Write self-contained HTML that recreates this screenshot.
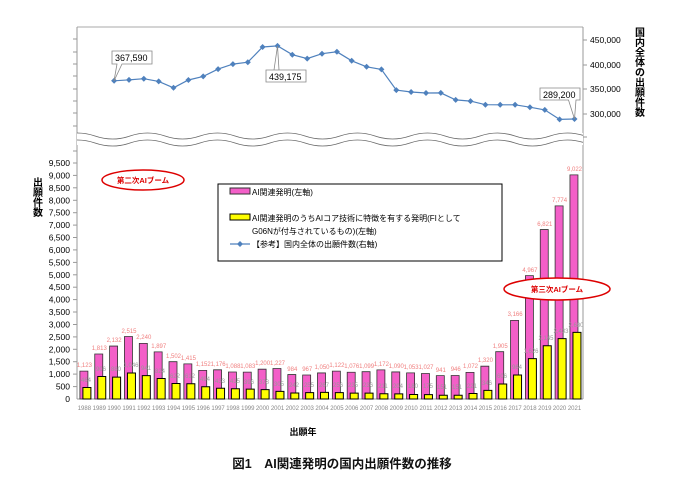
<!DOCTYPE html>
<html><head><meta charset="utf-8"><style>
body{margin:0;background:#fff}
svg{display:block;font-family:"Liberation Sans","Noto Sans CJK JP",sans-serif}
.yl{font-size:8.5px;fill:#000;text-anchor:end}
.xl{font-size:6px;fill:#888;text-anchor:middle}
.pl{font-size:6px;fill:#f08080;text-anchor:middle}
.gl{font-size:6px;fill:#999;text-anchor:middle}
</style></head><body>
<svg width="684" height="484" viewBox="0 0 684 484">
<defs><clipPath id="cp"><rect x="77" y="120" width="506" height="40"/></clipPath></defs>
<rect width="684" height="484" fill="#fff"/>
<!-- frame -->
<line x1="77" y1="27" x2="583" y2="27" stroke="#aaa"/>
<line x1="77" y1="27" x2="77" y2="399" stroke="#999"/>
<line x1="583" y1="27" x2="583" y2="399" stroke="#999"/>
<line x1="77" y1="399" x2="583" y2="399" stroke="#999"/>
<g stroke="#999">
<line x1="73" y1="39" x2="77" y2="39"/><line x1="73" y1="52" x2="77" y2="52"/><line x1="73" y1="64" x2="77" y2="64"/><line x1="73" y1="76" x2="77" y2="76"/><line x1="73" y1="89" x2="77" y2="89"/><line x1="73" y1="101" x2="77" y2="101"/><line x1="73" y1="113" x2="77" y2="113"/><line x1="73" y1="126" x2="77" y2="126"/>
<line x1="583" y1="40" x2="587" y2="40"/><line x1="583" y1="65" x2="587" y2="65"/><line x1="583" y1="89" x2="587" y2="89"/><line x1="583" y1="114" x2="587" y2="114"/><line x1="583" y1="137" x2="587" y2="137"/>
<line x1="73" y1="151" x2="77" y2="151"/>
<line x1="73" y1="163" x2="77" y2="163"/><line x1="73" y1="175.4" x2="77" y2="175.4"/><line x1="73" y1="187.8" x2="77" y2="187.8"/><line x1="73" y1="200.3" x2="77" y2="200.3"/><line x1="73" y1="212.7" x2="77" y2="212.7"/><line x1="73" y1="225.1" x2="77" y2="225.1"/><line x1="73" y1="237.5" x2="77" y2="237.5"/><line x1="73" y1="249.9" x2="77" y2="249.9"/><line x1="73" y1="262.4" x2="77" y2="262.4"/><line x1="73" y1="274.8" x2="77" y2="274.8"/><line x1="73" y1="287.2" x2="77" y2="287.2"/><line x1="73" y1="299.6" x2="77" y2="299.6"/><line x1="73" y1="312" x2="77" y2="312"/><line x1="73" y1="324.5" x2="77" y2="324.5"/><line x1="73" y1="336.9" x2="77" y2="336.9"/><line x1="73" y1="349.3" x2="77" y2="349.3"/><line x1="73" y1="361.7" x2="77" y2="361.7"/><line x1="73" y1="374.1" x2="77" y2="374.1"/><line x1="73" y1="386.6" x2="77" y2="386.6"/>
</g>
<!-- wave break -->
<g clip-path="url(#cp)">
<rect x="70" y="133" width="520" height="12" fill="#fff"/>
<path d="M60 136 q17.5 -6 35 0 t35 0 t35 0 t35 0 t35 0 t35 0 t35 0 t35 0 t35 0 t35 0 t35 0 t35 0 t35 0 t35 0 t35 0 t35 0" fill="none" stroke="#666" stroke-width="0.8"/>
<path d="M60 143 q17.5 -6 35 0 t35 0 t35 0 t35 0 t35 0 t35 0 t35 0 t35 0 t35 0 t35 0 t35 0 t35 0 t35 0 t35 0 t35 0 t35 0" fill="none" stroke="#666" stroke-width="0.8"/>
</g>
<!-- left labels -->
<g class="yl">
<text x="70" y="166">9,500</text><text x="70" y="178.4">9,000</text><text x="70" y="190.8">8,500</text><text x="70" y="203.3">8,000</text><text x="70" y="215.7">7,500</text><text x="70" y="228.1">7,000</text><text x="70" y="240.5">6,500</text><text x="70" y="252.9">6,000</text><text x="70" y="265.4">5,500</text><text x="70" y="277.8">5,000</text><text x="70" y="290.2">4,500</text><text x="70" y="302.6">4,000</text><text x="70" y="315">3,500</text><text x="70" y="327.5">3,000</text><text x="70" y="339.9">2,500</text><text x="70" y="352.3">2,000</text><text x="70" y="364.7">1,500</text><text x="70" y="377.1">1,000</text><text x="70" y="389.6">500</text><text x="70" y="402">0</text>
</g>
<g style="font-size:8.5px">
<text x="590" y="43">450,000</text><text x="590" y="68">400,000</text><text x="590" y="92">350,000</text><text x="590" y="117">300,000</text>
</g>
<g style="font-size:10px;font-weight:bold" text-anchor="middle">
<text x="38" y="186">出</text><text x="38" y="196">願</text><text x="38" y="206">件</text><text x="38" y="216">数</text>
<text x="640" y="36">国</text><text x="640" y="46">内</text><text x="640" y="56">全</text><text x="640" y="66">体</text><text x="640" y="76">の</text><text x="640" y="86">出</text><text x="640" y="96">願</text><text x="640" y="106">件</text><text x="640" y="116">数</text>
</g>
<!-- bars -->
<g transform="translate(84.4,399) scale(14.85,-0.02484)">
<g fill="#f35fc8" stroke="#333" stroke-width="0.8">
<rect x="-0.303" y="0" width="0.539" height="1123" vector-effect="non-scaling-stroke"/><rect x="0.697" y="0" width="0.539" height="1813" vector-effect="non-scaling-stroke"/><rect x="1.697" y="0" width="0.539" height="2132" vector-effect="non-scaling-stroke"/><rect x="2.697" y="0" width="0.539" height="2515" vector-effect="non-scaling-stroke"/><rect x="3.697" y="0" width="0.539" height="2240" vector-effect="non-scaling-stroke"/><rect x="4.697" y="0" width="0.539" height="1897" vector-effect="non-scaling-stroke"/><rect x="5.697" y="0" width="0.539" height="1502" vector-effect="non-scaling-stroke"/><rect x="6.697" y="0" width="0.539" height="1415" vector-effect="non-scaling-stroke"/><rect x="7.697" y="0" width="0.539" height="1152" vector-effect="non-scaling-stroke"/><rect x="8.697" y="0" width="0.539" height="1176" vector-effect="non-scaling-stroke"/><rect x="9.697" y="0" width="0.539" height="1088" vector-effect="non-scaling-stroke"/><rect x="10.697" y="0" width="0.539" height="1083" vector-effect="non-scaling-stroke"/><rect x="11.697" y="0" width="0.539" height="1200" vector-effect="non-scaling-stroke"/><rect x="12.697" y="0" width="0.539" height="1227" vector-effect="non-scaling-stroke"/><rect x="13.697" y="0" width="0.539" height="984" vector-effect="non-scaling-stroke"/><rect x="14.697" y="0" width="0.539" height="967" vector-effect="non-scaling-stroke"/><rect x="15.697" y="0" width="0.539" height="1050" vector-effect="non-scaling-stroke"/><rect x="16.697" y="0" width="0.539" height="1122" vector-effect="non-scaling-stroke"/><rect x="17.697" y="0" width="0.539" height="1076" vector-effect="non-scaling-stroke"/><rect x="18.697" y="0" width="0.539" height="1099" vector-effect="non-scaling-stroke"/><rect x="19.697" y="0" width="0.539" height="1172" vector-effect="non-scaling-stroke"/><rect x="20.697" y="0" width="0.539" height="1090" vector-effect="non-scaling-stroke"/><rect x="21.697" y="0" width="0.539" height="1053" vector-effect="non-scaling-stroke"/><rect x="22.697" y="0" width="0.539" height="1027" vector-effect="non-scaling-stroke"/><rect x="23.697" y="0" width="0.539" height="941" vector-effect="non-scaling-stroke"/><rect x="24.697" y="0" width="0.539" height="946" vector-effect="non-scaling-stroke"/><rect x="25.697" y="0" width="0.539" height="1072" vector-effect="non-scaling-stroke"/><rect x="26.697" y="0" width="0.539" height="1320" vector-effect="non-scaling-stroke"/><rect x="27.697" y="0" width="0.539" height="1905" vector-effect="non-scaling-stroke"/><rect x="28.697" y="0" width="0.539" height="3166" vector-effect="non-scaling-stroke"/><rect x="29.697" y="0" width="0.539" height="4967" vector-effect="non-scaling-stroke"/><rect x="30.697" y="0" width="0.539" height="6821" vector-effect="non-scaling-stroke"/><rect x="31.697" y="0" width="0.539" height="7774" vector-effect="non-scaling-stroke"/><rect x="32.697" y="0" width="0.539" height="9022" vector-effect="non-scaling-stroke"/>
</g>
<g fill="#ffff00" stroke="#000" stroke-width="1">
<rect x="-0.101" y="0" width="0.539" height="464" vector-effect="non-scaling-stroke"/><rect x="0.899" y="0" width="0.539" height="906" vector-effect="non-scaling-stroke"/><rect x="1.899" y="0" width="0.539" height="880" vector-effect="non-scaling-stroke"/><rect x="2.899" y="0" width="0.539" height="1046" vector-effect="non-scaling-stroke"/><rect x="3.899" y="0" width="0.539" height="941" vector-effect="non-scaling-stroke"/><rect x="4.899" y="0" width="0.539" height="824" vector-effect="non-scaling-stroke"/><rect x="5.899" y="0" width="0.539" height="622" vector-effect="non-scaling-stroke"/><rect x="6.899" y="0" width="0.539" height="612" vector-effect="non-scaling-stroke"/><rect x="7.899" y="0" width="0.539" height="494" vector-effect="non-scaling-stroke"/><rect x="8.899" y="0" width="0.539" height="433" vector-effect="non-scaling-stroke"/><rect x="9.899" y="0" width="0.539" height="415" vector-effect="non-scaling-stroke"/><rect x="10.899" y="0" width="0.539" height="396" vector-effect="non-scaling-stroke"/><rect x="11.899" y="0" width="0.539" height="378" vector-effect="non-scaling-stroke"/><rect x="12.899" y="0" width="0.539" height="305" vector-effect="non-scaling-stroke"/><rect x="13.899" y="0" width="0.539" height="242" vector-effect="non-scaling-stroke"/><rect x="14.899" y="0" width="0.539" height="255" vector-effect="non-scaling-stroke"/><rect x="15.899" y="0" width="0.539" height="267" vector-effect="non-scaling-stroke"/><rect x="16.899" y="0" width="0.539" height="256" vector-effect="non-scaling-stroke"/><rect x="17.899" y="0" width="0.539" height="235" vector-effect="non-scaling-stroke"/><rect x="18.899" y="0" width="0.539" height="236" vector-effect="non-scaling-stroke"/><rect x="19.899" y="0" width="0.539" height="211" vector-effect="non-scaling-stroke"/><rect x="20.899" y="0" width="0.539" height="204" vector-effect="non-scaling-stroke"/><rect x="21.899" y="0" width="0.539" height="180" vector-effect="non-scaling-stroke"/><rect x="22.899" y="0" width="0.539" height="175" vector-effect="non-scaling-stroke"/><rect x="23.899" y="0" width="0.539" height="151" vector-effect="non-scaling-stroke"/><rect x="24.899" y="0" width="0.539" height="151" vector-effect="non-scaling-stroke"/><rect x="25.899" y="0" width="0.539" height="221" vector-effect="non-scaling-stroke"/><rect x="26.899" y="0" width="0.539" height="346" vector-effect="non-scaling-stroke"/><rect x="27.899" y="0" width="0.539" height="606" vector-effect="non-scaling-stroke"/><rect x="28.899" y="0" width="0.539" height="964" vector-effect="non-scaling-stroke"/><rect x="29.899" y="0" width="0.539" height="1626" vector-effect="non-scaling-stroke"/><rect x="30.899" y="0" width="0.539" height="2145" vector-effect="non-scaling-stroke"/><rect x="31.899" y="0" width="0.539" height="2433" vector-effect="non-scaling-stroke"/><rect x="32.899" y="0" width="0.539" height="2680" vector-effect="non-scaling-stroke"/>
</g>
</g>
<!-- pink labels -->
<g class="pl">
<text x="84.4" y="367">1,123</text><text x="99.3" y="350">1,813</text><text x="114.1" y="342">2,132</text><text x="129" y="333">2,515</text><text x="143.8" y="339">2,240</text><text x="158.7" y="348">1,897</text><text x="173.5" y="358">1,502</text><text x="188.4" y="360">1,415</text><text x="203.2" y="366">1,152</text><text x="218.1" y="366">1,176</text><text x="232.9" y="368">1,088</text><text x="247.8" y="368">1,083</text><text x="262.6" y="365">1,200</text><text x="277.5" y="365">1,227</text><text x="292.3" y="371">984</text><text x="307.2" y="371">967</text><text x="322" y="369">1,050</text><text x="336.9" y="367">1,122</text><text x="351.7" y="368">1,076</text><text x="366.6" y="368">1,099</text><text x="381.4" y="366">1,172</text><text x="396.3" y="368">1,090</text><text x="411.1" y="369">1,053</text><text x="426" y="369">1,027</text><text x="440.8" y="372">941</text><text x="455.7" y="371">946</text><text x="470.5" y="368">1,072</text><text x="485.4" y="362">1,320</text><text x="500.2" y="348">1,905</text><text x="515.1" y="316">3,166</text><text x="529.9" y="272">4,967</text><text x="544.8" y="226">6,821</text><text x="559.6" y="202">7,774</text><text x="574.5" y="171">9,022</text>
</g>
<g class="gl">
<text x="86" y="382">464</text><text x="101" y="371">906</text><text x="116" y="371">880</text><text x="131" y="367">1,046</text><text x="146" y="370">941</text><text x="160" y="373">824</text><text x="175" y="378">622</text><text x="190" y="378">612</text><text x="205" y="381">494</text><text x="220" y="383">433</text><text x="235" y="383">415</text><text x="249" y="384">396</text><text x="264" y="384">378</text><text x="279" y="386">305</text><text x="294" y="387">242</text><text x="309" y="387">255</text><text x="324" y="387">267</text><text x="338" y="387">256</text><text x="353" y="387">235</text><text x="368" y="387">236</text><text x="383" y="388">211</text><text x="398" y="388">204</text><text x="413" y="388">180</text><text x="428" y="388">175</text><text x="442" y="389">151</text><text x="457" y="389">151</text><text x="472" y="388">221</text><text x="487" y="385">346</text><text x="502" y="378">606</text><text x="517" y="369">964</text><text x="531" y="353">1,626</text><text x="546" y="340">2,145</text><text x="561" y="333">2,433</text><text x="576" y="327">2,680</text>
</g>
<!-- x labels -->
<g class="xl">
<text x="84.4" y="410">1988</text><text x="99.3" y="410">1989</text><text x="114.1" y="410">1990</text><text x="129" y="410">1991</text><text x="143.8" y="410">1992</text><text x="158.7" y="410">1993</text><text x="173.5" y="410">1994</text><text x="188.4" y="410">1995</text><text x="203.2" y="410">1996</text><text x="218.1" y="410">1997</text><text x="232.9" y="410">1998</text><text x="247.8" y="410">1999</text><text x="262.6" y="410">2000</text><text x="277.5" y="410">2001</text><text x="292.3" y="410">2002</text><text x="307.2" y="410">2003</text><text x="322" y="410">2004</text><text x="336.9" y="410">2005</text><text x="351.7" y="410">2006</text><text x="366.6" y="410">2007</text><text x="381.4" y="410">2008</text><text x="396.3" y="410">2009</text><text x="411.1" y="410">2010</text><text x="426" y="410">2011</text><text x="440.8" y="410">2012</text><text x="455.7" y="410">2013</text><text x="470.5" y="410">2014</text><text x="485.4" y="410">2015</text><text x="500.2" y="410">2016</text><text x="515.1" y="410">2017</text><text x="529.9" y="410">2018</text><text x="544.8" y="410">2019</text><text x="559.6" y="410">2020</text><text x="574.5" y="410">2021</text>
</g>
<!-- line -->
<polyline fill="none" stroke="#4f81bd" stroke-width="1.2" points="114.1,80.8 129,79.9 143.8,78.7 158.7,81.4 173.5,87.8 188.4,80 203.2,76.4 218.1,69.1 232.9,64.1 247.8,62.2 262.6,47 277.5,45.9 292.3,54.7 307.2,58.6 322,53.7 336.9,51.8 351.7,60.8 366.6,66.8 381.4,69.4 396.3,90.1 411.1,92 426,93 440.8,92.9 455.7,99.9 470.5,101.1 485.4,104.7 500.2,104.8 515.1,104.8 529.9,107.2 544.8,109.9 559.6,119.4 574.5,119"/>
<g fill="#4f81bd">
<path d="M114.1 77.8l3 3-3 3-3-3z"/><path d="M129 76.9l3 3-3 3-3-3z"/><path d="M143.8 75.7l3 3-3 3-3-3z"/><path d="M158.7 78.4l3 3-3 3-3-3z"/><path d="M173.5 84.8l3 3-3 3-3-3z"/><path d="M188.4 77l3 3-3 3-3-3z"/><path d="M203.2 73.4l3 3-3 3-3-3z"/><path d="M218.1 66.1l3 3-3 3-3-3z"/><path d="M232.9 61.1l3 3-3 3-3-3z"/><path d="M247.8 59.2l3 3-3 3-3-3z"/><path d="M262.6 44l3 3-3 3-3-3z"/><path d="M277.5 42.9l3 3-3 3-3-3z"/><path d="M292.3 51.7l3 3-3 3-3-3z"/><path d="M307.2 55.6l3 3-3 3-3-3z"/><path d="M322 50.7l3 3-3 3-3-3z"/><path d="M336.9 48.8l3 3-3 3-3-3z"/><path d="M351.7 57.8l3 3-3 3-3-3z"/><path d="M366.6 63.8l3 3-3 3-3-3z"/><path d="M381.4 66.4l3 3-3 3-3-3z"/><path d="M396.3 87.1l3 3-3 3-3-3z"/><path d="M411.1 89l3 3-3 3-3-3z"/><path d="M426 90l3 3-3 3-3-3z"/><path d="M440.8 89.9l3 3-3 3-3-3z"/><path d="M455.7 96.9l3 3-3 3-3-3z"/><path d="M470.5 98.1l3 3-3 3-3-3z"/><path d="M485.4 101.7l3 3-3 3-3-3z"/><path d="M500.2 101.8l3 3-3 3-3-3z"/><path d="M515.1 101.8l3 3-3 3-3-3z"/><path d="M529.9 104.2l3 3-3 3-3-3z"/><path d="M544.8 106.9l3 3-3 3-3-3z"/><path d="M559.6 116.4l3 3-3 3-3-3z"/><path d="M574.5 116l3 3-3 3-3-3z"/>
</g>
<!-- callouts -->
<g fill="#fff" stroke="#888" stroke-width="0.8">
<path d="M112 51h40v13h-30l-8 17 3-17h-5z"/>
<path d="M266 70h40v12h-40z M274 70l3.5-24 1.5 24" />
<path d="M540 88h40v12h-4l-1.5 19-6-19h-28.5z"/>
</g>
<g style="font-size:9px" fill="#000">
<text x="115" y="61">367,590</text><text x="269" y="80">439,175</text><text x="543" y="98">289,200</text>
</g>
<!-- legend -->
<rect x="218" y="184" width="284" height="77" fill="#fff" stroke="#000" stroke-width="1"/>
<rect x="230" y="188" width="20" height="6" fill="#f35fc8" stroke="#333"/>
<text x="252" y="195" style="font-size:8px">AI関連発明(左軸)</text>
<rect x="230" y="214" width="20" height="6" fill="#ffff00" stroke="#000"/>
<text x="252" y="221" style="font-size:8px">AI関連発明のうちAIコア技術に特徴を有する発明(FIとして</text>
<text x="252" y="234" style="font-size:8px">G06Nが付与されているもの)(左軸)</text>
<line x1="230" y1="244" x2="250" y2="244" stroke="#4f81bd" stroke-width="1.2"/>
<path d="M240 241l3 3-3 3-3-3z" fill="#4f81bd"/>
<text x="252" y="247" style="font-size:8px">【参考】国内全体の出願件数(右軸)</text>
<!-- ellipses -->
<ellipse cx="143" cy="180" rx="41" ry="10" fill="#fff" stroke="#d00" stroke-width="1.5"/>
<text x="143" y="183" text-anchor="middle" style="font-size:7.5px;font-weight:bold" fill="#d00">第二次AIブーム</text>
<ellipse cx="557" cy="289" rx="53" ry="11" fill="#fff" stroke="#d00" stroke-width="1.5"/>
<text x="557" y="292" text-anchor="middle" style="font-size:7.5px;font-weight:bold" fill="#d00">第三次AIブーム</text>
<!-- titles -->
<text x="303" y="435" text-anchor="middle" style="font-size:9px;font-weight:bold">出願年</text>
<text x="342" y="468" text-anchor="middle" style="font-size:12.5px;font-weight:bold" fill="#111">図1　AI関連発明の国内出願件数の推移</text>
</svg>
</body></html>
